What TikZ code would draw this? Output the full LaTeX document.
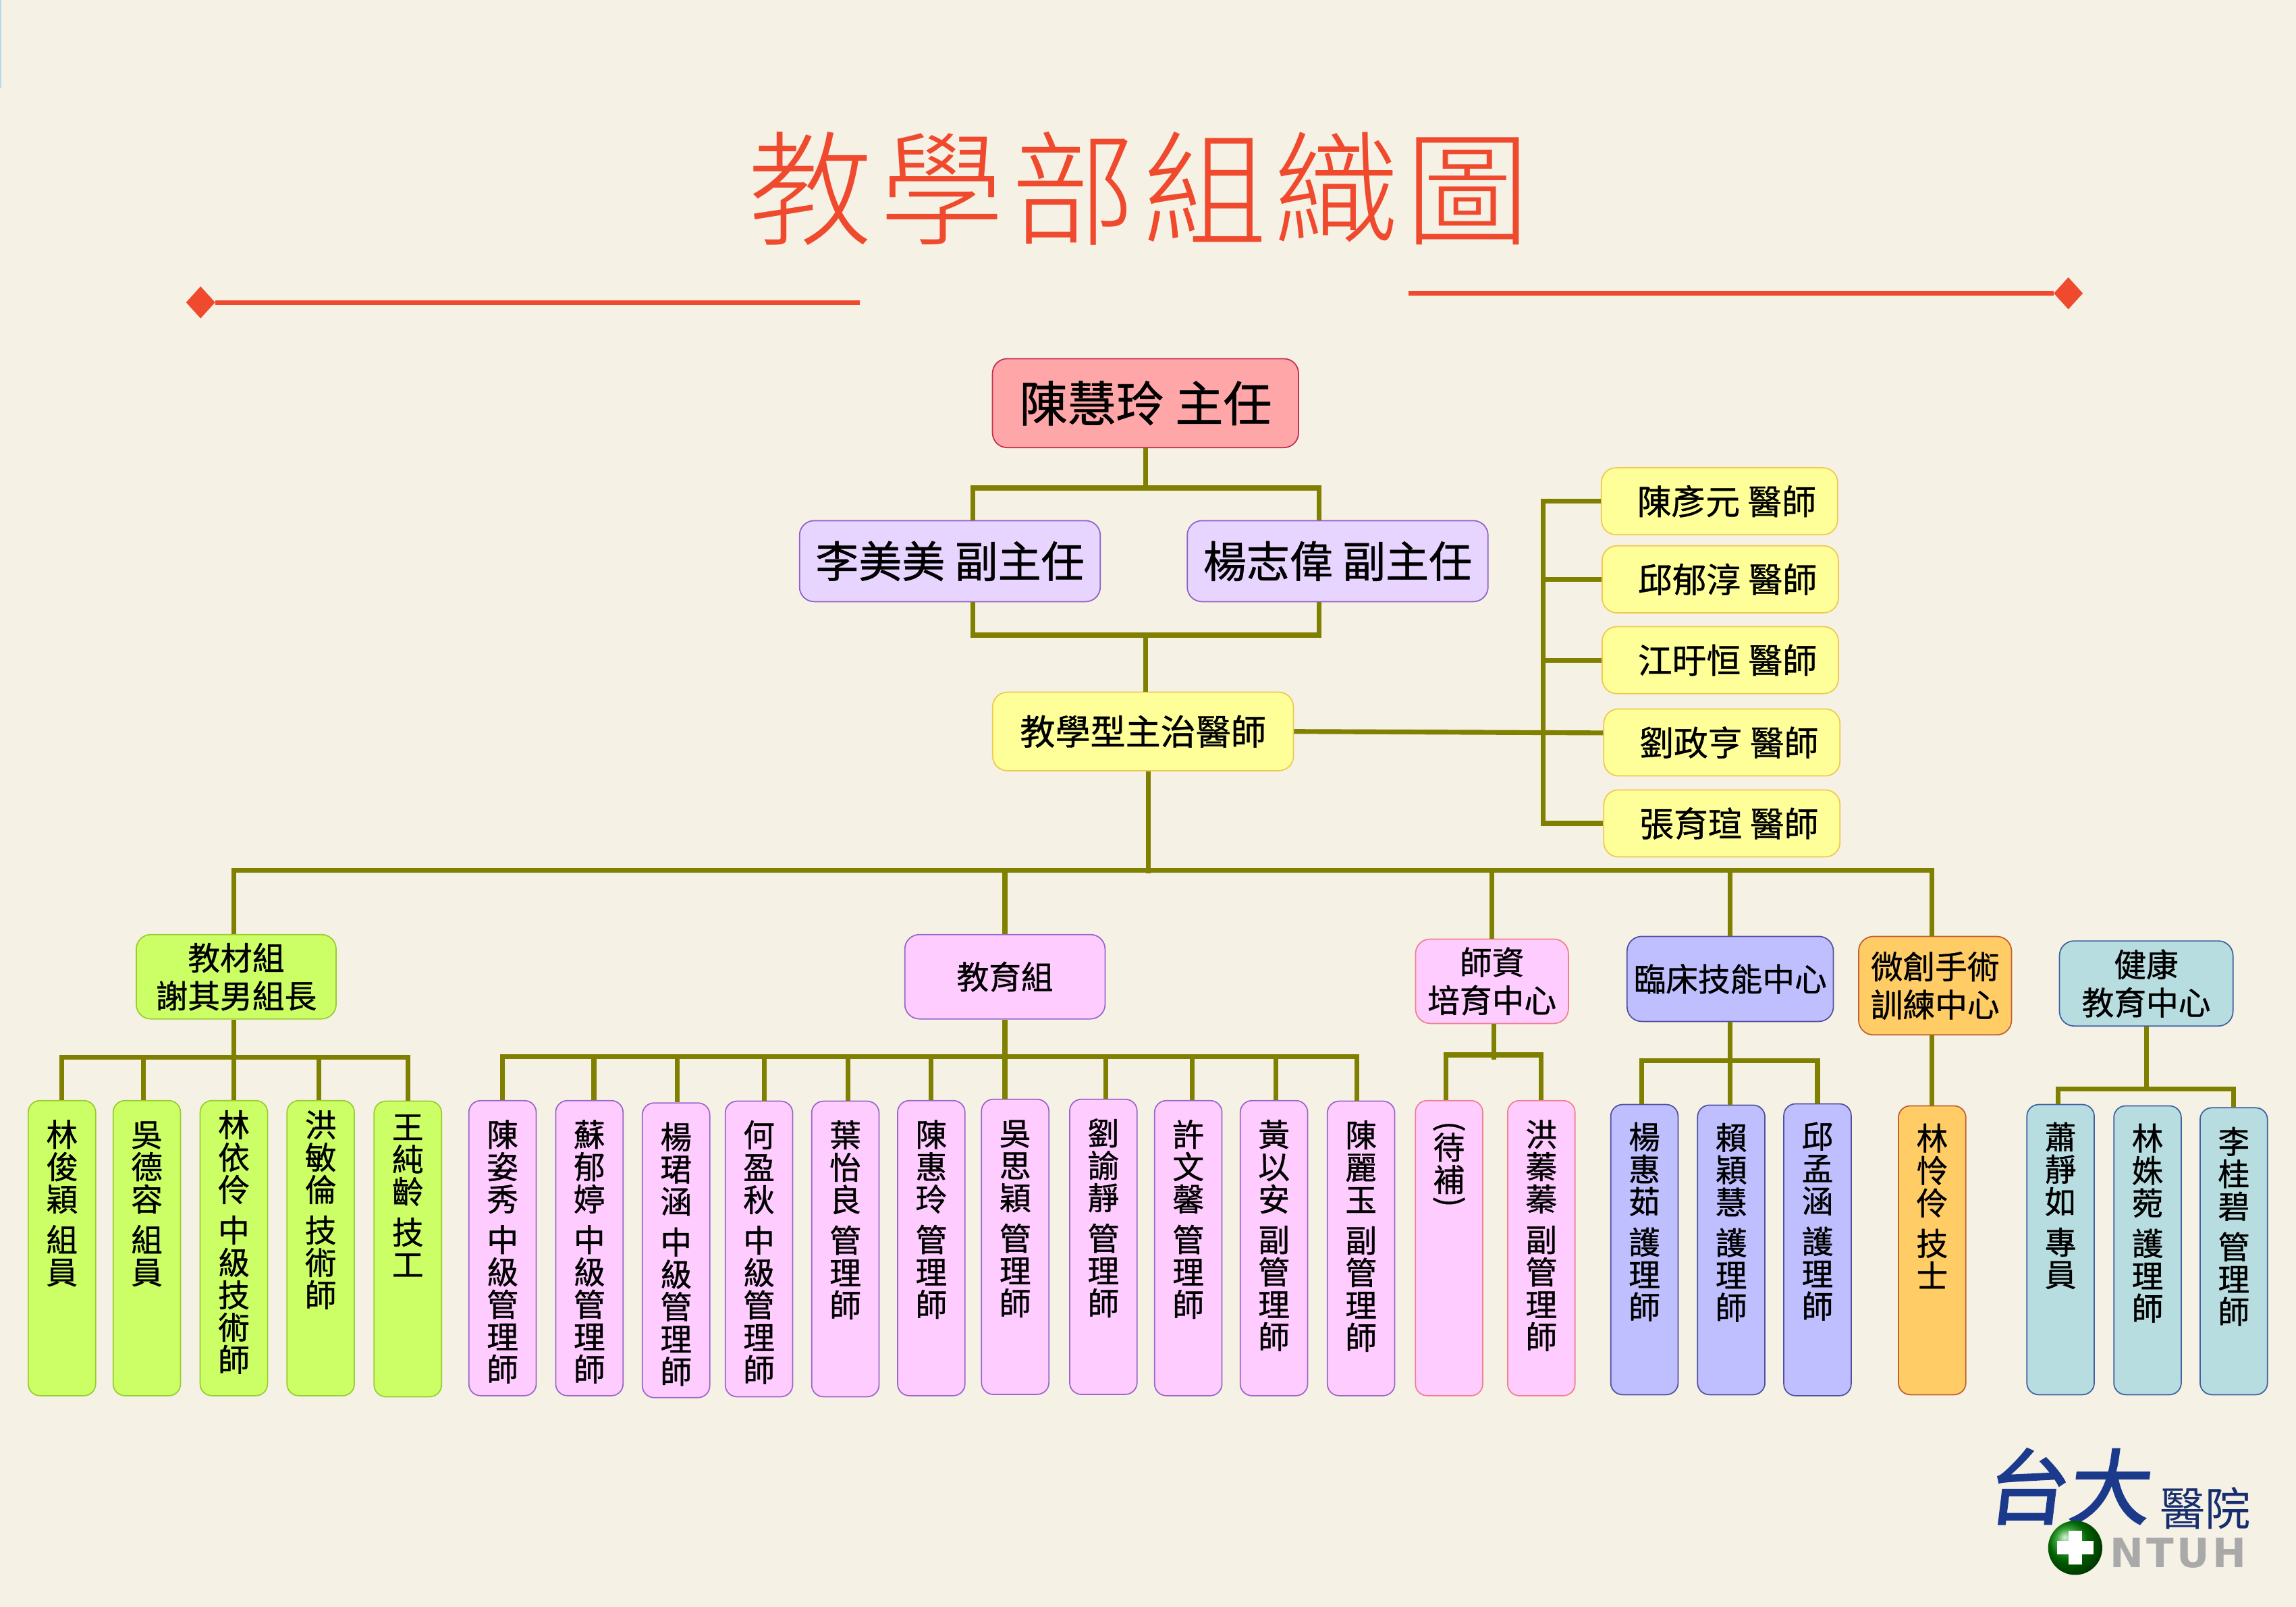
\documentclass[tikz,border=0pt]{standalone}
\usepackage{fontspec}
\usetikzlibrary{shapes.geometric}
\setmainfont{Noto Sans CJK TC}[FakeBold=0.8]
\newfontfamily\titlefont{Noto Sans CJK TC Light}[LetterSpace=5.6]
\newfontfamily\logocjk{Noto Sans CJK TC}[FakeBold=2]
\newfontfamily\logoplain{Noto Sans CJK TC}
\newfontfamily\logolatin{DejaVu Sans}[LetterSpace=7]
\definecolor{pagebg}{HTML}{F5F1E4}
\definecolor{edgeblue}{HTML}{B5D8F0}
\definecolor{titlered}{HTML}{F04A2E}
\definecolor{orgolive}{HTML}{808000}
\definecolor{deanfill}{HTML}{FFA6A8}
\definecolor{deanedge}{HTML}{C03050}
\definecolor{violetfill}{HTML}{E8D5FF}
\definecolor{violetedge}{HTML}{9060C8}
\definecolor{yellowfill}{HTML}{FFFF99}
\definecolor{yellowedge}{HTML}{F0C850}
\definecolor{limefill}{HTML}{CCFF66}
\definecolor{limeedge}{HTML}{99CC33}
\definecolor{pinkfill}{HTML}{FFCCFF}
\definecolor{pinkedge}{HTML}{9966CC}
\definecolor{roseedge}{HTML}{F08090}
\definecolor{bluefill}{HTML}{BFBFFF}
\definecolor{blueedge}{HTML}{5050A0}
\definecolor{orangefill}{HTML}{FFCC66}
\definecolor{orangeedge}{HTML}{C06030}
\definecolor{tealfill}{HTML}{B8DDE0}
\definecolor{tealedge}{HTML}{4060A0}
\definecolor{logoblue}{HTML}{1C3A8C}
\definecolor{logogray}{HTML}{A9A9A9}
\tikzset{
  orgbox/.style={draw, rounded corners=10pt, inner sep=0pt, line width=.8pt, align=center},
  deanbox/.style={orgbox, fill=deanfill, draw=deanedge, font=\fontsize{33}{35}\selectfont, minimum width=209pt, minimum height=60.7pt},
  deputybox/.style={orgbox, fill=violetfill, draw=violetedge, font=\fontsize{29.5}{31}\selectfont, minimum width=205.4pt, minimum height=55.3pt},
  doctorbox/.style={orgbox, fill=yellowfill, draw=yellowedge, font=\fontsize{23.4}{25}\selectfont, minimum width=161.3pt, minimum height=45.7pt, text width=132pt, align=flush right},
  groupbox/.style={orgbox, font=\fontsize{22}{26}\selectfont},
  staffbox/.style={orgbox, anchor=north, rounded corners=8pt, minimum width=46pt, font=\fontsize{21.5}{22}\selectfont},
  orgline/.style={draw=orgolive, line width=3.3pt},
  redline/.style={draw=titlered, line width=3.2pt},
  enddiamond/.style={diamond, fill=titlered, inner sep=0pt, minimum width=20pt, minimum height=22pt}
}
\makeatletter
\newcommand{\vstrut}{\rule{0pt}{18.7pt}\rule[-3.4pt]{0pt}{3.4pt}}
\newcommand{\vstack}[4]{\vbox to #1pt{\vskip #2pt\baselineskip=0pt\lineskip=0pt\relax
  \@tfor\vc:=#3\do{\hbox to 46pt{\hss\vc\vstrut\hss}}\vskip 5.6pt\relax
  \@tfor\vc:=#4\do{\hbox to 46pt{\hss\vc\vstrut\hss}}\vss}}
\makeatother
\newcommand{\vparen}[1]{\let\vstrut\relax\rotatebox{-90}{#1}}
\begin{document}
\begin{tikzpicture}[x=1pt, y=-1pt]
  \useasboundingbox (0,0) rectangle (1568,1097.4);
  \fill[pagebg] (0,0) rectangle (1568,1097.4);
  \fill[edgeblue] (0,0) rectangle (.8,60);
  % 標題
  \node[titlered, font=\titlefont\fontsize{85}{90}\selectfont, inner sep=0pt] (title) at (778,129) {教學部組織圖};
  \node[enddiamond] (leftend) at (137,206.5) {};
  \node[enddiamond] (rightend) at (1412.5,200.3) {};
  \coordinate (leftstart) at (587,206.5);
  \coordinate (rightstart) at (962,200.3);
  \draw[redline] (leftstart) -- (leftend);
  \draw[redline] (rightstart) -- (rightend);
  % 主管
  \node[deanbox] (dean) at (782.3,275.3) {陳慧玲 主任};
  \node[deputybox] (limm) at (648.7,383.2) {李美美 副主任};
  \node[deputybox] (yangzw) at (913.5,383.2) {楊志偉 副主任};
  \node[groupbox, fill=yellowfill, draw=yellowedge, font=\fontsize{24}{26}\selectfont, minimum width=205.4pt, minimum height=53.6pt] (attending) at (780.6,499.5) {教學型主治醫師};
  % 醫師
  \node[doctorbox] (chenyy) at (1174.3,342.3) {陳彥元 醫師};
  \node[doctorbox] (qiuyc) at (1174.8,395.6) {邱郁淳 醫師};
  \node[doctorbox] (jiangxh) at (1174.8,450.8) {江旴恒 醫師};
  \node[doctorbox] (liuzh) at (1175.9,507) {劉政亨 醫師};
  \node[doctorbox] (zhangyx) at (1175.9,562.3) {張育瑄 醫師};
  % 組別
  \node[groupbox, fill=limefill, draw=limeedge, minimum width=136.5pt, minimum height=57.6pt] (material) at (161.3,667) {教材組\\謝其男組長};
  \node[groupbox, fill=pinkfill, draw=pinkedge, minimum width=136.8pt, minimum height=57.6pt] (education) at (686.3,667) {教育組};
  \node[groupbox, fill=pinkfill, draw=roseedge, minimum width=104.4pt, minimum height=57.6pt] (faculty) at (1018.9,670.1) {師資\\培育中心};
  \node[groupbox, fill=bluefill, draw=blueedge, minimum width=140.9pt, minimum height=58.1pt] (clinical) at (1181.6,668.5) {臨床技能中心};
  \node[groupbox, fill=orangefill, draw=orangeedge, minimum width=104.4pt, minimum height=67.2pt] (surgery) at (1321.5,673.1) {微創手術\\訓練中心};
  \node[groupbox, fill=tealfill, draw=tealedge, minimum width=118.5pt, minimum height=58.1pt] (health) at (1465.7,671.6) {健康\\教育中心};
  % 教材組人員
  \node[staffbox, fill=limefill, draw=limeedge] (linjy) at (42.3,751.2) {\vstack{201.5}{12.5}{林俊穎}{組員}};
  \node[staffbox, fill=limefill, draw=limeedge] (wudr) at (100.3,751.2) {\vstack{201.5}{12.5}{吳德容}{組員}};
  \node[staffbox, fill=limefill, draw=limeedge] (linyl) at (159.7,751.2) {\vstack{201.5}{6}{林依伶}{中級技術師}};
  \node[staffbox, fill=limefill, draw=limeedge] (hongml) at (219,751.2) {\vstack{201.5}{6}{洪敏倫}{技術師}};
  \node[staffbox, fill=limefill, draw=limeedge] (wangcl) at (278.5,751.6) {\vstack{201.8}{7}{王純齡}{技工}};
  % 教育組人員
  \node[staffbox, fill=pinkfill, draw=pinkedge] (chenzx) at (343.2,751.2) {\vstack{201.5}{12.5}{陳姿秀}{中級管理師}};
  \node[staffbox, fill=pinkfill, draw=pinkedge] (suyt) at (402.5,751.2) {\vstack{201.5}{12.5}{蘇郁婷}{中級管理師}};
  \node[staffbox, fill=pinkfill, draw=pinkedge] (yangjh) at (461.7,752.8) {\vstack{201.2}{12.5}{楊珺涵}{中級管理師}};
  \node[staffbox, fill=pinkfill, draw=pinkedge] (heyq) at (518.3,751.6) {\vstack{201.8}{12.5}{何盈秋}{中級管理師}};
  \node[staffbox, fill=pinkfill, draw=pinkedge] (yeyl) at (577.3,751.6) {\vstack{201.8}{12.5}{葉怡良}{管理師}};
  \node[staffbox, fill=pinkfill, draw=pinkedge] (chenhl) at (636,751.2) {\vstack{201.5}{12.5}{陳惠玲}{管理師}};
  \node[staffbox, fill=pinkfill, draw=pinkedge] (wusy) at (693.3,750.3) {\vstack{201.5}{12.5}{吳思穎}{管理師}};
  \node[staffbox, fill=pinkfill, draw=pinkedge] (liuyj) at (753.5,750.3) {\vstack{201.5}{12.5}{劉諭靜}{管理師}};
  \node[staffbox, fill=pinkfill, draw=pinkedge] (xuwx) at (811.5,751.2) {\vstack{201.5}{12.5}{許文馨}{管理師}};
  \node[staffbox, fill=pinkfill, draw=pinkedge] (huangya) at (870,751.2) {\vstack{201.5}{12.5}{黃以安}{副管理師}};
  \node[staffbox, fill=pinkfill, draw=pinkedge] (chenly) at (929.5,751.6) {\vstack{201.1}{12.5}{陳麗玉}{副管理師}};
  % 師資培育中心人員
  \node[staffbox, fill=pinkfill, draw=roseedge] (vacant) at (989.6,751.2) {\vstack{201.5}{14}{{\vparen(}待補{\vparen)}}{}};
  \node[staffbox, fill=pinkfill, draw=roseedge] (hongzz) at (1052.6,751.2) {\vstack{201.5}{12.5}{洪蓁蓁}{副管理師}};
  % 臨床技能中心人員
  \node[staffbox, fill=bluefill, draw=blueedge] (yanghr) at (1123,753.9) {\vstack{198.1}{11.5}{楊惠茹}{護理師}};
  \node[staffbox, fill=bluefill, draw=blueedge] (laiyh) at (1182.3,754.3) {\vstack{197.7}{11.5}{賴穎慧}{護理師}};
  \node[staffbox, fill=bluefill, draw=blueedge] (qiumh) at (1241.2,753.4) {\vstack{199.3}{11.5}{邱孟涵}{護理師}};
  % 微創手術訓練中心人員
  \node[staffbox, fill=orangefill, draw=orangeedge] (linll) at (1319.5,754.8) {\vstack{197.2}{11.5}{林怜伶}{技士}};
  % 健康教育中心人員
  \node[staffbox, fill=tealfill, draw=tealedge] (xiaojr) at (1407.2,753.9) {\vstack{198.1}{11.5}{蕭靜如}{專員}};
  \node[staffbox, fill=tealfill, draw=tealedge] (linsw) at (1466.6,754.8) {\vstack{197.2}{11.5}{林姝菀}{護理師}};
  \node[staffbox, fill=tealfill, draw=tealedge] (ligb) at (1525.5,756.1) {\vstack{195.9}{12.5}{李桂碧}{管理師}};
  % 連接線
  \coordinate (upleft) at (664.4,333.2);
  \coordinate (upright) at (900.8,333.2);
  \coordinate (lowleft) at (664.4,433.7);
  \coordinate (lowright) at (900.8,433.7);
  \coordinate (trunktop) at (1053.7,342.3);
  \coordinate (trunkend) at (1053.7,562.3);
  \coordinate (mainbus) at (784.3,594.5);
  \coordinate (busleft) at (linyl.north |- mainbus);
  \coordinate (busright) at (linll.north |- mainbus);
  \coordinate (busmaterial) at (278.5,722);
  \coordinate (buseducation) at (926.8,721.7);
  \coordinate (busfaculty) at (1020.3,720.4);
  \coordinate (busclinical) at (1181.6,724.2);
  \coordinate (bushealth) at (1465.5,743.8);
  \draw[orgline] (dean.south) -- (dean.south |- upleft);
  \draw[orgline] (upleft |- limm.north) -- (upleft) -- (upright) -- (upright |- yangzw.north);
  \draw[orgline] (lowleft |- limm.south) -- (lowleft) -- (lowright) -- (lowright |- yangzw.south);
  \draw[orgline] (attending.north -| dean.south) -- (dean.south |- lowleft);
  \draw[orgline] ([xshift=3.7pt]attending.south) -- ([yshift=-1.7pt]mainbus);
  \draw[orgline] (attending.east) -- ([yshift=6.5pt]liuzh.west);
  \draw[orgline] (chenyy.west) -- (trunktop) -- (trunkend) -- (zhangyx.west);
  \draw[orgline] (qiuyc.west) -- (trunktop |- qiuyc.west);
  \draw[orgline] (jiangxh.west) -- (trunktop |- jiangxh.west);
  % 總線
  \draw[orgline] (busleft |- material.north) -- (busleft) -- (busright) -- (busright |- surgery.north);
  \draw[orgline] (education.north) -- (education.north |- mainbus);
  \draw[orgline] (faculty.north) -- (faculty.north |- mainbus);
  \draw[orgline] (clinical.north) -- (clinical.north |- mainbus);
  % 教材組
  \draw[orgline] (linyl.north) -- (linyl.north |- material.south);
  \draw[orgline] (linjy.north) -- (linjy.north |- busmaterial) -- (busmaterial) -- (wangcl.north);
  \draw[orgline] ([xshift=-2.3pt]wudr.north) -- ([xshift=-2.3pt]wudr.north |- busmaterial);
  \draw[orgline] ([xshift=-1.4pt]hongml.north) -- ([xshift=-1.4pt]hongml.north |- busmaterial);
  % 教育組
  \draw[orgline] (education.south) -- (education.south |- wusy.north);
  \draw[orgline] (chenzx.north) -- (chenzx.north |- buseducation) -- (buseducation) -- (buseducation |- chenly.north);
  \draw[orgline] ([xshift=3.1pt]suyt.north) -- ([xshift=3.1pt]suyt.north |- buseducation);
  \draw[orgline] ([xshift=1pt]yangjh.north) -- ([xshift=1pt]yangjh.north |- buseducation);
  \draw[orgline] ([xshift=3.7pt]heyq.north) -- ([xshift=3.7pt]heyq.north |- buseducation);
  \draw[orgline] ([xshift=2pt]yeyl.north) -- ([xshift=2pt]yeyl.north |- buseducation);
  \draw[orgline] (chenhl.north) -- (chenhl.north |- buseducation);
  \draw[orgline] ([xshift=1.5pt]liuyj.north) -- ([xshift=1.5pt]liuyj.north |- buseducation);
  \draw[orgline] ([xshift=2.5pt]xuwx.north) -- ([xshift=2.5pt]xuwx.north |- buseducation);
  \draw[orgline] ([xshift=1.5pt]huangya.north) -- ([xshift=1.5pt]huangya.north |- buseducation);
  % 師資培育中心
  \draw[orgline] (busfaculty |- faculty.south) -- ([yshift=-3pt]busfaculty);
  \draw[orgline] ([xshift=-2pt]vacant.north) -- ([xshift=-2pt]vacant.north |- busfaculty) -- (hongzz.north |- busfaculty) -- (hongzz.north);
  % 臨床技能中心
  \draw[orgline] (clinical.south) -- (laiyh.north -| clinical.south);
  \draw[orgline] ([xshift=-2pt]yanghr.north) -- ([xshift=-2pt]yanghr.north |- busclinical) -- (qiumh.north |- busclinical) -- (qiumh.north);
  % 微創手術訓練中心
  \draw[orgline] (linll.north |- surgery.south) -- (linll.north);
  % 健康教育中心
  \draw[orgline] (health.south) -- (health.south |- bushealth);
  \draw[orgline] ([xshift=-1.7pt]xiaojr.north) -- ([xshift=-1.7pt]xiaojr.north |- bushealth) -- (ligb.north |- bushealth) -- (ligb.north);
  % 標誌
  \shade[left color=pagebg, middle color=black, right color=pagebg] (1362,1043.6) rectangle (1534,1044.6);
  \node[logoblue, font=\logocjk\fontsize{56}{58}\selectfont, xslant=.12, inner sep=0pt] (logomark) at (1414,1015) {台大};
  \node[logoblue!80!black, font=\logoplain\fontsize{31}{33}\selectfont, inner sep=0pt] (logoname) at (1506,1030) {醫院};
  \node[circle, ball color=green!55!black, minimum size=37pt, inner sep=0pt] (logoball) at (1417.2,1057) {};
  \fill[white] (1405,1052.4) rectangle (1429.6,1061.6);
  \fill[white] (1412.6,1045.5) rectangle (1421.8,1068.5);
  \node[logogray, font=\logolatin\bfseries\fontsize{27.5}{29}\selectfont, inner sep=0pt, anchor=west] (logotext) at (1441,1060.5) {NTUH};
\end{tikzpicture}
\end{document}
